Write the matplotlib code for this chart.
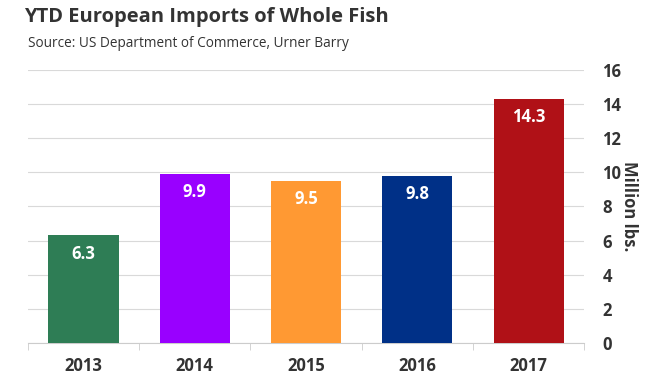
import matplotlib
matplotlib.use("Agg")
import matplotlib.pyplot as plt
import numpy as np

# --- Data ---
years = ["2013", "2014", "2015", "2016", "2017"]
imports = [6.3, 9.9, 9.5, 9.8, 14.3]
colors = ["#2e7d55", "#9900ff", "#ff9933", "#003087", "#b01117"]
y_ticks = [0, 2, 4, 6, 8, 10, 12, 14, 16]

plt.rcParams["font.family"] = ["Open Sans", "DejaVu Sans"]
text_color = "#333333"

fig = plt.figure(figsize=(6.64, 3.87), dpi=100)
ax = fig.add_axes([0.042, 0.114, 0.838, 0.705])

x = np.arange(len(years))
bars = ax.bar(x, imports, width=0.63, color=colors, zorder=3)

# value labels just inside the top of each bar
for rect, val in zip(bars, imports):
    ax.text(rect.get_x() + rect.get_width() / 2, val - 0.55, f"{val:.1f}",
            ha="center", va="top", color="white", fontsize=12,
            fontweight="bold", zorder=4)

ax.set_xlim(-0.5, len(years) - 0.5)
ax.set_ylim(0, 16)
ax.set_yticks(y_ticks)
ax.yaxis.tick_right()
ax.yaxis.set_label_position("right")
ax.tick_params(axis="y", length=0, pad=13, labelsize=12, labelcolor=text_color)
for lbl in ax.get_yticklabels():
    lbl.set_fontweight("bold")
ax.set_ylabel("Million lbs.", rotation=-90, labelpad=12, fontsize=12,
              fontweight="bold", color=text_color)

ax.set_xticks(x)
ax.set_xticklabels(years, fontsize=12, fontweight="bold", color=text_color)
ax.set_xticks(np.arange(-0.5, len(years), 1), minor=True)
ax.tick_params(axis="x", which="major", length=0, pad=10)
ax.tick_params(axis="x", which="minor", length=5, color="#cccccc")

ax.grid(axis="y", color="#d9d9d9", linewidth=0.8, zorder=0)
for s in ["top", "left", "right"]:
    ax.spines[s].set_visible(False)
ax.spines["bottom"].set_color("#cccccc")

fig.text(0.036, 0.955, "YTD European Imports of Whole Fish", fontsize=14.5,
         fontweight="bold", color=text_color, va="center")
fig.text(0.042, 0.888, "Source: US Department of Commerce, Urner Barry",
         fontsize=9.8, color=text_color, va="center")

fig.savefig("out.png", dpi=100)
